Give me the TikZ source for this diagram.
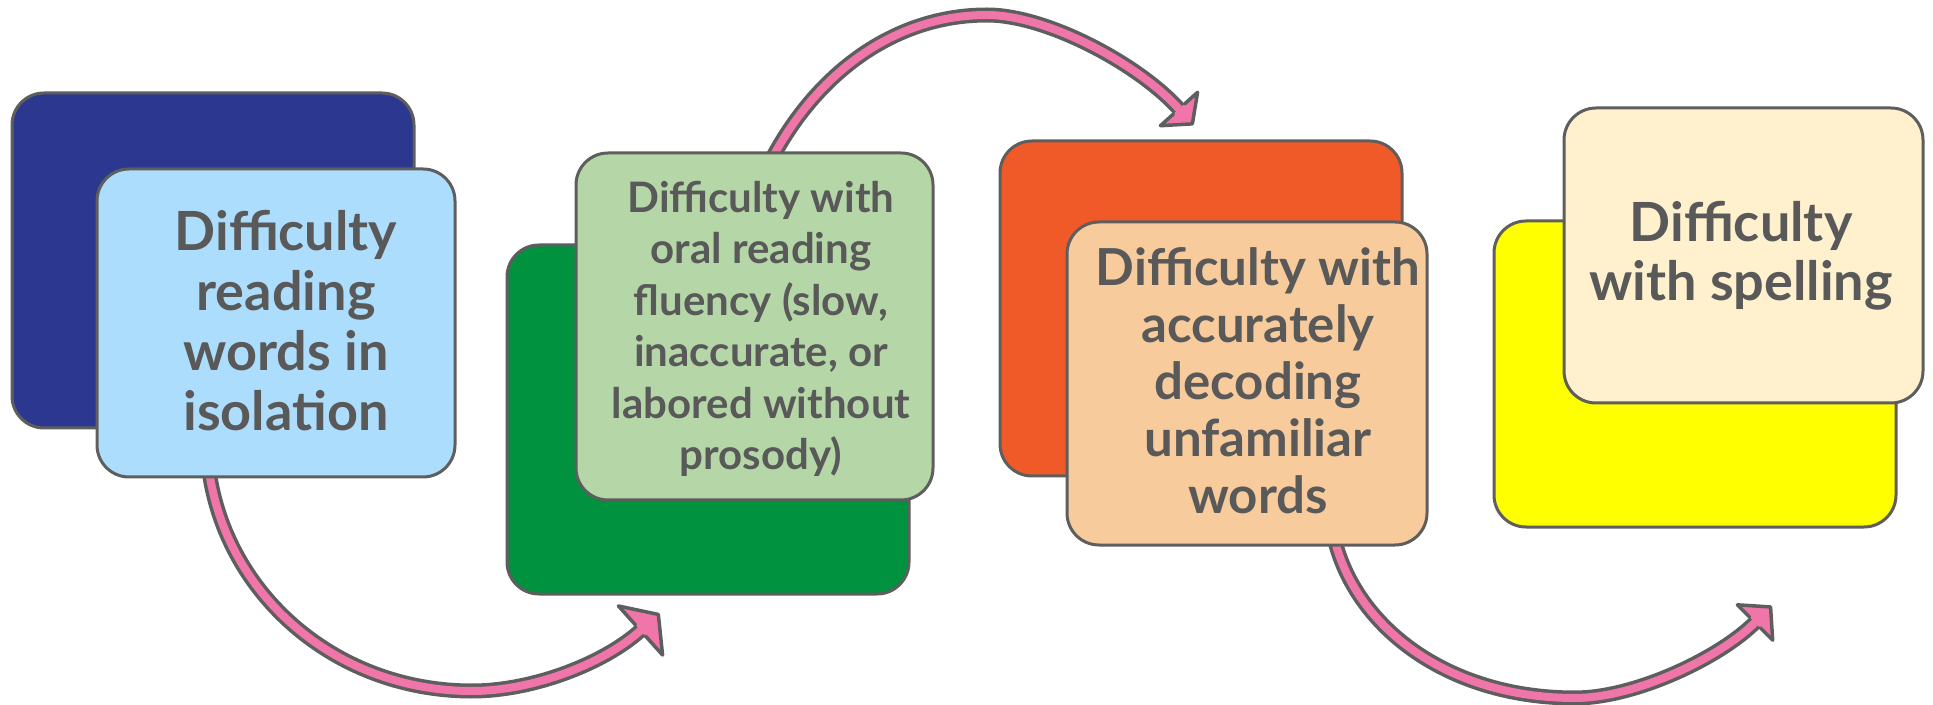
\documentclass[tikz,border=0pt]{standalone}
\usepackage{fontspec}
\setmainfont{Lato}
\usetikzlibrary{calc}
\pgfdeclarelayer{bg}
\pgfsetlayers{bg,main}
\definecolor{outl}{HTML}{5E5E5E}
\definecolor{txtc}{HTML}{595959}
\definecolor{navy}{HTML}{2C388F}
\definecolor{lblue}{HTML}{ADDDFC}
\definecolor{dgreen}{HTML}{00923F}
\definecolor{lgreen}{HTML}{B5D7A8}
\definecolor{orng}{HTML}{F05A28}
\definecolor{peach}{HTML}{F8CB9C}
\definecolor{yell}{HTML}{FFFF00}
\definecolor{cream}{HTML}{FFF1CE}
\definecolor{pinkc}{HTML}{F075A8}
\begin{document}
\begin{tikzpicture}[x=0.5pt,y=-0.5pt,
  card/.style={draw=outl, line width=1.5pt, rounded corners=16pt, inner sep=0pt, outer sep=0pt},
  lbl/.style={text=txtc, align=center, inner sep=0pt},
  shaft/.style={draw=pinkc, line width=4pt, preaction={draw=outl, line width=7.5pt}},
  headline/.style={draw=outl, line width=1.75pt, line join=round, line cap=round}]
\useasboundingbox (0,0) rectangle (1933,705);

% back cards
\node[card, fill=navy,  minimum width=201pt, minimum height=167.5pt] (b1) at (213,260.5) {};
\node[card, fill=dgreen, minimum width=201pt, minimum height=174.5pt] (b2) at (708,419.5) {};
\node[card, fill=orng,  minimum width=201pt, minimum height=167.5pt] (b3) at (1201,308.5) {};
\node[card, fill=yell,  minimum width=201pt, minimum height=153pt] (b4) at (1695,374) {};

% front cards
\node[card, fill=lblue, minimum width=179pt, minimum height=154pt] (f1) at (276,323) {};
\node[card, fill=lgreen, minimum width=178.5pt, minimum height=173.5pt] (f2) at (754.5,326.5) {};
\node[card, fill=peach, minimum width=180pt, minimum height=161.5pt] (f3) at (1247,383.5) {};
\node[card, fill=cream, minimum width=179.5pt, minimum height=147.5pt] (f4) at (1743.5,255.5) {};

% labels
\node[lbl, font={\fontsize{27}{30}\selectfont\bfseries}] (t1) at (286,321)
  {Difficulty\\reading\\words in\\isolation};
\node[lbl, font={\fontsize{21}{25.75}\selectfont\bfseries}] (t2) at (761,329)
  {Difficulty with\\oral reading\\fluency (slow,\\inaccurate, or\\labored without\\prosody)};
\node[lbl, font={\fontsize{25.5}{28.5}\selectfont\bfseries}] (t3) at (1258,381)
  {Difficulty with\\accurately\\decoding\\unfamiliar\\words};
\node[lbl, font={\fontsize{27}{29.5}\selectfont\bfseries}] (t4) at (1741,256)
  {Difficulty\\with spelling};

% arrows
\coordinate (a1e) at (640.5,630.5);
\coordinate (a2e) at (1179,109);
\coordinate (a3e) at (1755,622.5);
\begin{pgfonlayer}{bg}
  \coordinate (a1s) at ($(f1.south west)+(113,0)$);
  \coordinate (a2s) at ($(f2.north west)+(199,0)$);
  \coordinate (a3s) at ($(f3.south west)+(269,0)$);
  \draw[shaft] ($(a1s)+(-2,-12)$) -- (a1s)
     .. controls (230,598) and (338,691) .. (472,691)
     .. controls (532,691) and (603.4,664) .. (a1e);
  \draw[shaft] ($(a2s)+(-5.8,10.4)$) -- (a2s)
     .. controls (821,70) and (897,15) .. (987,15)
     .. controls (1047,15) and (1138.9,64.4) .. (a2e);
  \draw[shaft] ($(a3s)+(-3,-12)$) -- (a3s)
     .. controls (1360,630) and (1450,698) .. (1575,698)
     .. controls (1635,698) and (1719.6,657.9) .. (a3e);
\end{pgfonlayer}

% arrow heads
\begin{scope}[shift={(a1e)}, rotate=42]
  \fill[pinkc] (0,-33) -- (24,0) -- (0,33) -- cycle;
  \draw[headline] (0,7.5) -- (0,33) -- (24,0) -- (0,-33) -- (0,-7.5);
\end{scope}
\begin{scope}[shift={(a2e)}, rotate=-48]
  \fill[pinkc] (0,-25) -- (20,0) -- (0,25) -- cycle;
  \draw[headline] (0,7.5) -- (0,25) -- (20,0) -- (0,-25) -- (0,-7.5);
\end{scope}
\begin{scope}[shift={(a3e)}, rotate=45]
  \fill[pinkc] (0,-25) -- (22,0) -- (0,25) -- cycle;
  \draw[headline] (0,7.5) -- (0,25) -- (22,0) -- (0,-25) -- (0,-7.5);
\end{scope}
\end{tikzpicture}
\end{document}
